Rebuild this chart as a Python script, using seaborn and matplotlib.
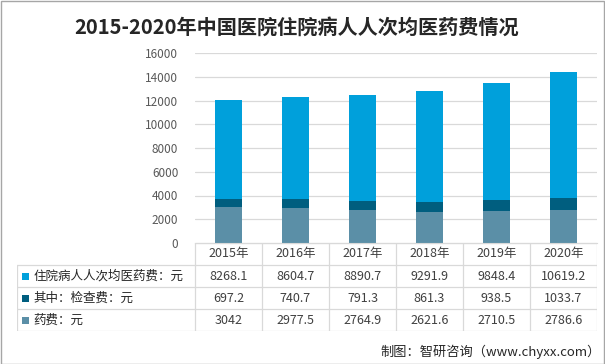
import numpy as np
import pandas as pd
import seaborn as sns
import matplotlib.pyplot as plt
from matplotlib.patches import Rectangle

years = ["2015年", "2016年", "2017年", "2018年", "2019年", "2020年"]
series_names = ["住院病人人次均医药费：元", "其中：检查费：元", "药费：元"]
avg_cost = [8268.1, 8604.7, 8890.7, 9291.9, 9848.4, 10619.2]
exam_fee = [697.2, 740.7, 791.3, 861.3, 938.5, 1033.7]
drug_fee = [3042, 2977.5, 2764.9, 2621.6, 2710.5, 2786.6]
table_text = [["8268.1", "8604.7", "8890.7", "9291.9", "9848.4", "10619.2"],
              ["697.2", "740.7", "791.3", "861.3", "938.5", "1033.7"],
              ["3042", "2977.5", "2764.9", "2621.6", "2710.5", "2786.6"]]
colors = ["#00A0DB", "#005E7F", "#5B8FA7"]

sns.set_style("white")
plt.rcParams["font.family"] = ["Noto Sans CJK SC", "DejaVu Sans"]

W, H = 605, 364
fig = plt.figure(figsize=(W / 100, H / 100), dpi=100)

def px_axes(x0, y0, x1, y1):
    return fig.add_axes([x0 / W, 1 - y1 / H, (x1 - x0) / W, (y1 - y0) / H])

# stacked bars: draw cumulative totals, tallest first
df = pd.DataFrame({"year": years, "drug": drug_fee, "exam": exam_fee, "avg": avg_cost})
df["c1"] = df["drug"]
df["c2"] = df["drug"] + df["exam"]
df["c3"] = df["c2"] + df["avg"]

ax = px_axes(195, 53, 597, 243)
for col, c in zip(["c3", "c2", "c1"], colors):
    sns.barplot(data=df, x="year", y=col, color=c, width=0.4, ax=ax,
                saturation=1, linewidth=0)
ax.set_ylim(0, 16000)
ax.set_xlim(-0.5, 5.5)
ax.set_yticks(range(0, 16001, 2000))
ax.yaxis.grid(True, color="#D9D9D9", linewidth=0.9)
ax.set_axisbelow(True)
ax.set_xticks([])
ax.set_xlabel("")
ax.set_ylabel("")
for s in ["top", "right", "left"]:
    ax.spines[s].set_visible(False)
ax.spines["bottom"].set_color("#D9D9D9")
ax.tick_params(axis="y", length=0, labelsize=8.5, labelcolor="#595959", pad=12)

# data table below
unit = (597 - 195) / 6
left_units = (195 - 17) / unit
tax = px_axes(17, 243, 597, 331)
tax.set_xlim(-0.5 - left_units, 5.5)
tax.set_ylim(4, 0)
tax.axis("off")
gc = "#D9D9D9"
xl = -0.5 - left_units
tax.plot([-0.5, 5.5], [0, 0], color=gc, lw=0.9)
for r in range(1, 5):
    tax.plot([xl, 5.5], [r, r], color=gc, lw=0.9)
tax.plot([xl, xl], [1, 4], color=gc, lw=0.9)
for i in range(7):
    tax.plot([i - 0.5, i - 0.5], [0, 4], color=gc, lw=0.9)
for i, y in enumerate(years):
    tax.text(i, 0.5, y, ha="center", va="center", fontsize=9, color="#404040")
for r, (name, c, row) in enumerate(zip(series_names, colors, table_text)):
    tax.add_patch(Rectangle((xl + 0.08, r + 1.36), 0.1, 0.3, color=c, lw=0))
    tax.text(xl + 0.24, r + 1.5, name, ha="left", va="center", fontsize=9, color="#262626")
    for i, v in enumerate(row):
        tax.text(i, r + 1.5, v, ha="center", va="center", fontsize=9, color="#404040")

fig.text(0.5 - 6 / W, 1 - 27 / H, "2015-2020年中国医院住院病人人次均医药费情况", ha="center", va="center",
         fontsize=14.5, fontweight="bold", color="#262626")
fig.text(1 - 4 / W, 1 - 352 / H, "制图：智研咨询（www.chyxx.com）", ha="right", va="center",
         fontsize=9.5, color="#262626")
fig.patches.append(Rectangle((0.5 / W, 0.5 / H), 1 - 1.5 / W, 1 - 1.5 / H, transform=fig.transFigure,
                             fill=False, edgecolor="#A6A6A6", lw=1))

fig.savefig("out.png", dpi=100)
